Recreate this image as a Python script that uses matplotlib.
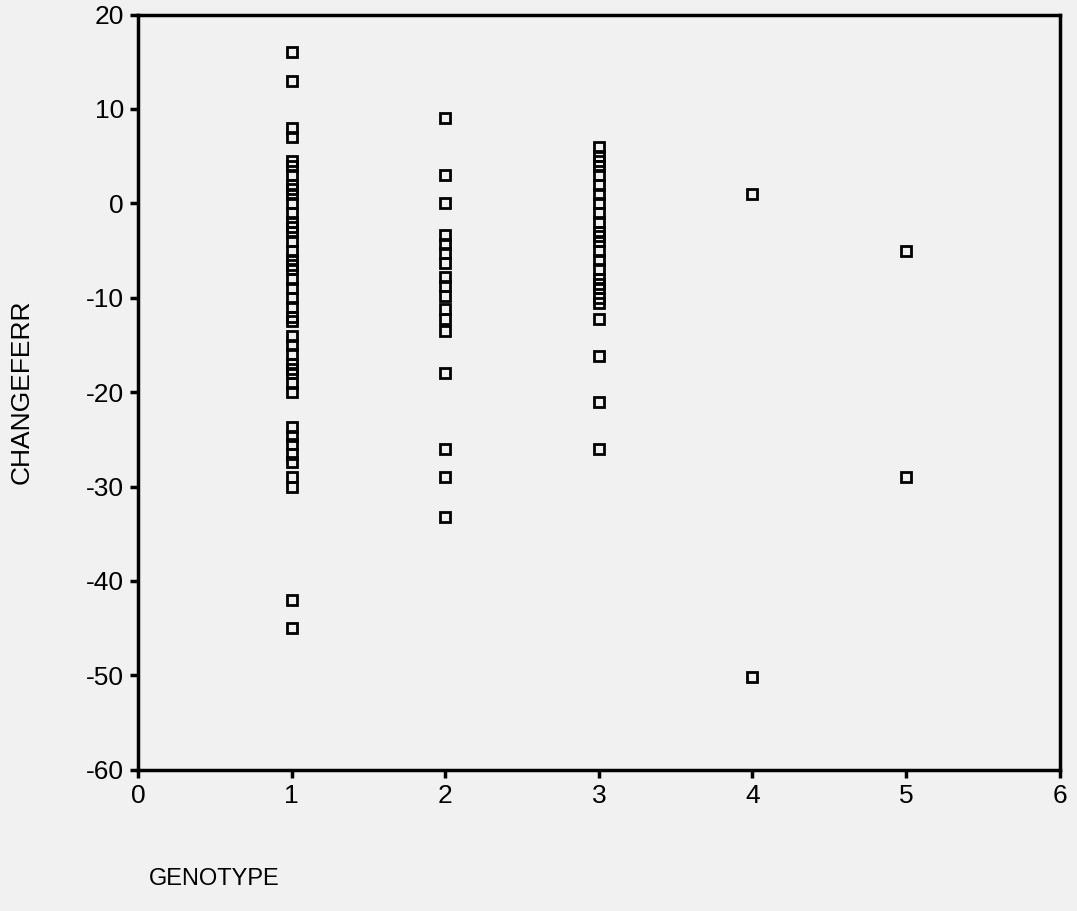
"""
Scatter of CHANGEFERR by GENOTYPE (recreated)
"""

import matplotlib
matplotlib.use('Agg')
import matplotlib.pyplot as plt

# ── Data ──────────────────────────────────────────────────────────────────────

GENO_1 = [16, 13, 8, 7,
          4.5, 4, 3, 2, 1.5, 1, 0, -1, -2, -2.5, -3, -4, -5, -6, -6.5, -7,
          -8, -9, -10, -11, -12, -12.5,
          -14, -15, -16, -17, -17.5, -18, -19, -20,
          -23.7, -24.6, -25.5, -26.5, -27.4,
          -29, -30,
          -42, -45]
GENO_2 = [9, 3, 0, -3.3, -4.3, -5.3, -6.3, -7.8, -8.8, -9.8, -11.2, -12.2,
          -13.5, -18, -26, -29, -33.2]
GENO_3 = [6, 5, 4.5, 4, 3, 2, 1, 0, -1, -2, -3, -3.5, -4, -5, -6, -7, -8,
          -8.5, -9, -10, -10.5,
          -12.2, -16.2, -21, -26]
GENO_4 = [1, -50.2]
GENO_5 = [-5, -29]

GROUPS = [GENO_1, GENO_2, GENO_3, GENO_4, GENO_5]
X_TICKS = [0, 1, 2, 3, 4, 5, 6]
Y_TICKS = [-60, -50, -40, -30, -20, -10, 0, 10, 20]

BG = '#f1f1f1'

plt.rcParams['font.family'] = ['Liberation Sans', 'DejaVu Sans']
plt.rcParams['axes.unicode_minus'] = False

fig = plt.figure(figsize=(10.77, 9.11), dpi=100, facecolor=BG)
ax = fig.add_axes([0.128, 0.155, 0.856, 0.829], facecolor=BG)

for i, vals in enumerate(GROUPS):
    ax.plot([i + 1] * len(vals), vals, linestyle='none', marker='s',
            markersize=7.5, markerfacecolor='none', markeredgecolor='black',
            markeredgewidth=2)

ax.set_xlim(0, 6)
ax.set_ylim(-60, 20)
ax.set_xticks(X_TICKS)
ax.set_yticks(Y_TICKS)
ax.tick_params(axis='both', direction='out', length=6, width=2.5,
               labelsize=19, pad=4)
for s in ax.spines.values():
    s.set_linewidth(2.5)

fig.text(0.020, 0.57, 'CHANGEFERR', rotation=90, ha='center', va='center',
         fontsize=19)
fig.text(0.138, 0.035, 'GENOTYPE', ha='left', va='center', fontsize=17)

plt.savefig('out.png', dpi=100, facecolor=BG)
plt.close()
